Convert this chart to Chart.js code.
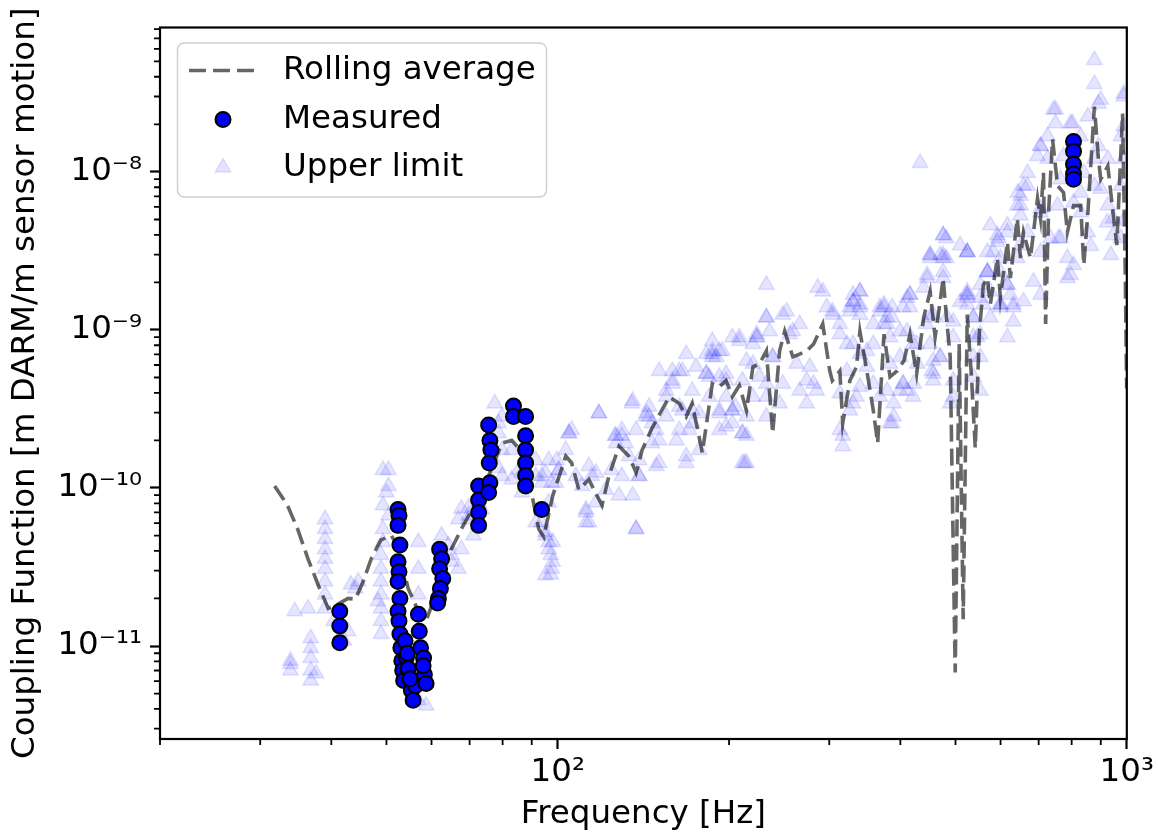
<!DOCTYPE html>
<html>
<head>
<meta charset="utf-8">
<script src="https://cdn.jsdelivr.net/npm/chart.js@4.4.1/dist/chart.umd.min.js"></script>
<style>
  html, body { margin: 0; padding: 0; background: #fff; }
  #wrap { width: 1158px; height: 834px; }
</style>
</head>
<body>
<div id="wrap"><canvas id="chart"></canvas></div>
<script>
const FONT = 'DejaVu Sans';
const FONT_SIZE = 32.5;

// axis limits
const X_MIN = 20, X_MAX = 1000;
const Y_MIN = 2.58e-12, Y_MAX = 8.2e-8;

// rolling average (dashed)
const avgFreq = [31.8, 33.5, 34.9, 36.4, 37.9, 39.5, 41.1, 42.8, 44.1, 45.5, 47.0, 48.9, 51.0, 52.4, 54.6, 56.9,
    58.7, 60.4, 62.5, 65.0, 67.7, 71.8, 75.6, 79.8, 83.0, 86.8, 89.9, 92.6, 94.5, 98.0, 103.3, 105.8, 108.9,
    113.4, 119.6, 123.0, 128.1, 133.4, 137.3, 140.7, 146.4, 157.0, 163.5, 168.2, 172.3, 179.5, 186.9, 192.3,
    197.6, 202.7, 208.5, 214.6, 220.3, 226.2, 232.6, 238.6, 245.4, 250.5, 258.9, 266.1, 273.8, 281.6, 292.2,
    300.6, 303.7, 313.1, 316.8, 326.1, 334.9, 339.6, 349.3, 358.5, 364.9, 374.4, 383.6, 394.6, 405.9, 415.9,
    427.2, 439.6, 451.2, 460.4, 469.9, 475.6, 483.2, 489.4, 499.4, 507.5, 515.8, 524.3, 533.0, 541.6, 550.5,
    559.6, 568.8, 575.6, 592.3, 599.5, 616.8, 624.3, 642.0, 650.3, 658.3, 677.1, 696.8, 705.2, 713.8, 720.0,
    728.6, 740.5, 755.7, 774.3, 786.2, 806.2, 829.8, 840.2, 854.3, 877.0, 891.5, 899.8, 926.0, 945.6, 960.3,
    983.0, 994.0, 999.5];
const avgValue = [1.03e-10, 7.77e-11, 5.5e-11, 3.56e-11, 2.45e-11, 1.73e-11, 1.84e-11, 2.0e-11, 1.98e-11, 2.56e-11,
    3.56e-11, 4.69e-11, 5.0e-11, 4.23e-11, 2.31e-11, 1.66e-11, 1.44e-11, 1.92e-11, 2.83e-11, 4.1e-11, 5.5e-11,
    8.1e-11, 1.19e-10, 1.92e-10, 2.0e-10, 1.67e-10, 9.36e-11, 5.5e-11, 4.9e-11, 8.95e-11, 1.59e-10, 1.44e-10,
    9.75e-11, 1.13e-10, 7.77e-11, 1.19e-10, 1.84e-10, 1.59e-10, 1.25e-10, 1.74e-10, 2.39e-10, 3.78e-10, 3.43e-10,
    2.83e-10, 3.43e-10, 1.67e-10, 4.57e-10, 4.37e-10, 4.78e-10, 3.78e-10, 4.45e-10, 3.09e-10, 5.84e-10, 6.1e-10,
    7.37e-10, 2.22e-10, 7.37e-10, 9.8e-10, 6.75e-10, 7.04e-10, 7.37e-10, 8.14e-10, 1.09e-9, 5.5e-10, 4.78e-10,
    5.5e-10, 2.57e-10, 4.78e-10, 5.84e-10, 9.8e-10, 5.5e-10, 3.09e-10, 1.92e-10, 9.4e-10, 5.05e-10, 5.5e-10,
    6.39e-10, 9.4e-10, 5.28e-10, 1.2e-9, 1.75e-9, 9.0e-10, 1.52e-9, 2.13e-9, 1.09e-9, 6.75e-10, 6.8e-12, 8.14e-10,
    1.48e-11, 1.25e-9, 5.28e-10, 1.79e-10, 9.4e-10,
    1.93e-9, 2.13e-9, 1.45e-9, 2.85e-9, 1.6e-9, 3.6e-9, 2.13e-9, 5.08e-9, 2.85e-9, 4.15e-9, 2.85e-9, 6.78e-9,
    5.08e-9, 9.86e-9, 1.09e-9, 5.53e-9, 1.61e-8, 8.17e-9, 7.39e-9, 4.15e-9, 6.12e-9, 6.12e-9, 2.58e-9, 5.53e-9,
    2.59e-8, 1.21e-8, 9.0e-9, 1.09e-8, 5.53e-9, 3.44e-9, 2.34e-8, 2.13e-9, 4.26e-10];

// measured coupling (circles)
const measuredFreq = [41.4, 41.4, 41.4,
    52.4, 52.6, 52.4, 52.8, 52.4, 52.6, 52.4, 52.8, 52.4, 52.6, 52.8, 53.0, 53.2, 53.4, 53.6,
    53.9, 54.2, 54.6, 55.3, 55.7, 56.2, 55.0, 54.4,
    56.9, 57.1, 57.4, 58.1, 58.3, 58.7, 58.0,
    62.0, 62.5, 62.0, 62.8, 62.2, 61.7, 61.5,
    72.6, 72.6, 72.6, 72.6,
    75.6, 76.0, 76.3, 75.8, 76.0, 75.6,
    83.6, 83.6,
    87.8, 87.8, 87.8, 87.8, 87.8, 87.8,
    93.7,
    806, 806, 806, 806, 806];
const measuredValue = [1.66e-11, 1.34e-11, 1.05e-11,
    7.3e-11, 6.7e-11, 5.8e-11, 4.35e-11, 3.41e-11, 2.95e-11, 2.56e-11, 2.0e-11, 1.66e-11, 1.44e-11, 1.19e-11,
    9.75e-12, 8.07e-12, 6.99e-12, 6.05e-12,
    1.08e-11, 8.5e-12, 7.2e-12, 5.24e-12, 4.53e-12, 5.6e-12, 6.2e-12, 9.0e-12,
    1.59e-11, 1.24e-11, 9.75e-12, 8.4e-12, 6.6e-12, 5.8e-12, 7.5e-12,
    4.1e-11, 3.56e-11, 3.08e-11, 2.67e-11, 2.31e-11, 2.0e-11, 1.87e-11,
    1.03e-10, 8.4e-11, 7.0e-11, 5.8e-11,
    2.5e-10, 2.0e-10, 1.74e-10, 1.44e-10, 1.08e-10, 9.36e-11,
    3.3e-10, 2.83e-10,
    2.83e-10, 2.14e-10, 1.74e-10, 1.44e-10, 1.2e-10, 1.03e-10,
    7.3e-11,
    1.56e-8, 1.35e-8, 1.12e-8, 9.7e-9, 9.0e-9];

// upper limits (faint triangles), below 100 Hz
const limitLowFreq = [33.9, 33.9, 34.5, 36.4, 36.8, 36.8, 36.8, 36.8, 36.8, 37.6, 33.9,
    39.0, 39.0, 39.0, 39.0, 39.0, 39.0, 39.0, 39.0, 39.0, 40.4, 42.1, 42.8, 43.3, 44.1, 44.6,
    49.3, 50.4, 50.0, 49.3, 50.4, 49.3, 49.3, 48.9, 48.9, 48.9, 48.9, 48.9, 48.9, 48.9, 50.4, 48.3,
    56.9, 56.9, 56.9, 56.9, 58.7, 62.5, 65.0, 66.9, 66.9, 67.7, 69.7, 72.6, 71.1, 69.7, 74.4,
    77.5, 78.7, 79.8, 78.7, 83.0, 85.4, 86.5, 91.5, 93.7, 93.7, 95.1, 96.4, 98.0, 95.1,
    93.7, 96.4, 98.0, 99.6, 95.1, 97.6,
    64.2, 67.7, 65.0, 69.7, 73.5, 79.8, 83.0, 86.5, 91.5, 96.4, 99.2, 91.5, 95.1, 96.4, 97.2, 97.6, 97.2,
    78.7, 79.8];
const limitLowValue = [7.7e-12, 6.99e-12, 1.66e-11, 1.73e-11, 1.12e-11, 9.7e-12, 8.4e-12, 7.0e-12, 6.05e-12, 6.7e-12, 8.07e-12,
    6.35e-11, 5.5e-11, 4.75e-11, 4.1e-11, 3.56e-11, 3.08e-11, 2.56e-11, 2.12e-11, 1.73e-11, 1.44e-11, 1.08e-11,
    1.24e-11, 2.45e-11, 2.31e-11, 2.56e-11,
    1.3e-10, 1.03e-10, 9.36e-11, 7.77e-11, 6.7e-11, 5.5e-11, 4.55e-11, 3.77e-11, 3.08e-11, 2.56e-11, 2.12e-11,
    1.73e-11, 1.44e-11, 1.19e-11, 1.3e-10, 1.92e-11,
    4.55e-11, 3.08e-11, 2.12e-11, 4.53e-12, 4.2e-12, 5.0e-11, 3.77e-11, 3.08e-11, 6.35e-11, 7.4e-11, 6.35e-11,
    8.1e-11, 5.0e-11, 7.5e-11, 9.6e-11,
    3.43e-10, 2.57e-10, 1.74e-10, 1.34e-10, 1.74e-10, 1.3e-10, 9.36e-11, 1.5e-10, 1.08e-10, 6.07e-11, 5.0e-11,
    4.1e-11, 3.41e-11, 2.8e-11,
    1.19e-10, 8.1e-11, 4.55e-11, 1.5e-10, 1.25e-10, 1.08e-10,
    4.35e-11, 4.1e-11, 3.41e-11, 6.7e-11, 7.3e-11, 1.19e-10, 1.13e-10, 1.25e-10, 1.19e-10, 1.5e-10, 1.08e-10,
    6.07e-11, 5.26e-11, 4.55e-11, 3.77e-11, 3.08e-11, 2.83e-11,
    2.22e-10, 2.83e-10];

// upper limits, 100 - 500 Hz
const limitMidFreq = [104.6, 103.3, 110.4, 112.1, 113.4, 118.1, 121.5, 126.1, 131.6, 134.9, 137.3, 139.0, 142.7,
    146.4, 150.7, 155.1, 159.0, 163.5, 168.2, 165.6, 172.3, 177.3, 184.6, 186.9, 192.3, 197.6, 202.7,
    208.5, 214.6, 211.1, 220.3, 232.6, 232.6, 238.6, 252.5, 258.9, 266.1, 273.8, 281.6, 286.3, 292.2,
    303.7, 313.1, 316.8, 330.3, 330.3, 316.8, 214.6, 211.1, 186.9, 202.7, 223.8, 192.3, 245.4, 358.5,
    334.9, 339.6, 339.6, 368.3, 379.0, 415.9, 399.5, 422.3, 454.3, 389.2, 451.2, 475.6, 475.6,
    100.4, 105.8, 107.6, 114.8, 116.7, 126.6, 129.6, 137.3, 144.7, 148.9, 155.1, 163.5, 170.2, 150.7, 159.0,
    168.2, 175.0, 182.4, 186.9, 144.7, 133.4, 129.6, 139.0,
    182.4, 189.9, 194.6, 184.6, 197.6, 202.7, 192.3, 202.7, 214.6, 223.6, 232.6, 235.6, 248.5, 255.6, 266.1,
    262.9, 277.2, 297.0, 304.2, 313.1, 326.1, 330.3, 339.6, 349.3, 358.5, 368.3, 379.0, 383.6, 399.5, 404.4,
    421.0, 428.3, 404.4, 421.0, 445.7, 451.2, 469.9, 483.2, 469.9, 456.8, 248.5, 285.1, 339.6, 368.3, 383.6,
    389.2, 326.1, 313.1, 273.8, 232.6, 220.3, 211.1, 220.3, 410.9, 387.0, 374.4, 330.3, 427.2, 443.8, 469.9,
    433.3, 451.2, 475.6, 481.5, 481.5, 495.2];
const limitMidValue = [2.22e-10, 1.74e-10, 1.03e-10, 7.3e-11, 6.07e-11, 2.97e-10, 9.75e-11, 2.14e-10, 1.92e-10,
    3.43e-10, 5.5e-11, 1.19e-10, 2.83e-10, 1.92e-10, 1.44e-10, 3.78e-10, 4.57e-10, 5.5e-10, 1.59e-10, 3.09e-10,
    3.09e-10, 1.74e-10, 5.05e-10, 6.75e-10, 5.05e-10, 3.78e-10, 3.09e-10, 8.5e-10, 2.83e-10, 1.44e-10, 8.14e-10,
    1.93e-9, 1.2e-9, 6.75e-10, 1.31e-9, 9.8e-10, 4.13e-10, 3.43e-10, 4.57e-10, 1.85e-9, 1.75e-9, 1.31e-9,
    2.33e-10, 1.84e-10, 1.67e-9, 8.14e-10, 2.14e-10, 1.44e-10, 2.22e-10, 7.37e-10, 9.0e-10, 9.0e-10, 2.97e-10,
    3.43e-10, 4.57e-10, 3.78e-10, 1.75e-9, 1.39e-9, 1.31e-9, 1.09e-9, 1.67e-9, 4.13e-10, 4.57e-10, 5.5e-10,
    2.83e-10, 2.85e-9, 3.97e-9, 2.85e-9,
    1.3e-10, 2.33e-10, 1.19e-10, 1.19e-10, 8.1e-11, 1.92e-10, 2.33e-10, 2.33e-10, 2.83e-10, 2.33e-10, 2.83e-10,
    2.33e-10, 2.33e-10, 5.5e-10, 5.5e-10, 7.04e-10, 5.84e-10, 7.04e-10, 8.5e-10, 3.27e-10, 1.59e-10, 1.19e-10,
    1.5e-10,
    5.28e-10, 6.75e-10, 7.37e-10, 3.78e-10, 4.78e-10, 3.09e-10, 2.33e-10, 2.57e-10, 2.14e-10, 9.4e-10, 1.2e-9,
    9.8e-10, 1.25e-9, 9.4e-10, 1.09e-9, 6.1e-10, 5.84e-10, 1.39e-9, 1.25e-9, 9.4e-10, 1.39e-9, 1.52e-9,
    1.25e-9, 7.37e-10, 1.09e-9, 1.39e-9, 1.2e-9, 6.1e-10, 9.8e-10, 1.39e-9, 8.14e-10, 6.1e-10, 4.57e-10,
    3.78e-10, 2.13e-9, 1.2e-9, 2.98e-9, 1.2e-9, 6.75e-10, 4.78e-10, 4.57e-10, 4.13e-10, 4.37e-10, 3.78e-10,
    2.57e-10, 3.43e-10, 3.09e-10, 3.96e-10, 4.78e-10, 4.57e-10, 3.78e-10, 4.78e-10, 6.1e-10, 1.6e-9, 1.39e-9,
    1.45e-9, 1.5e-9, 8.14e-10, 1.09e-9, 6.75e-10, 1.14e-8, 2.98e-9, 2.13e-9, 3.81e-9, 2.85e-9, 3.78e-10];

// upper limits, second reading of the 100 - 700 Hz band
const limitBandFreq = [104.6, 100.4, 118.1, 113.4, 116.7, 112.1, 112.1, 126.6, 129.6, 124.2, 128.1, 135.4, 135.4,
    139.0, 137.3, 143.2, 146.4, 150.7, 148.9, 155.1, 159.0, 165.6, 163.5, 161.6, 172.3, 172.3, 168.2, 177.3,
    182.4, 186.9, 192.3, 197.6, 192.3, 197.6, 205.3, 208.5, 214.6, 223.6, 211.1, 213.0, 226.2, 232.6, 238.6,
    232.6,
    475.6, 451.2, 475.6, 524.3, 445.7, 475.6, 568.8, 592.3, 616.8, 650.3, 339.6, 339.6, 326.1, 374.4, 415.9,
    415.9, 439.6, 524.3, 524.3, 568.8, 575.6, 599.5, 624.3, 631.9, 313.1, 374.4, 387.0, 410.9, 456.8, 495.4,
    537.2, 559.6, 322.3, 339.6, 358.5, 383.6, 451.2, 456.8, 495.4, 537.2, 552.7, 322.3, 349.3, 399.5, 404.4,
    410.9, 456.8, 495.4, 537.2, 379.0, 330.3, 387.0, 489.4, 552.7, 599.5, 631.9, 658.3, 616.8];
const limitBandValue = [2.22e-10, 1.3e-10, 2.97e-10, 1.38e-10, 1.25e-10, 7.02e-11, 6.07e-11, 2.14e-10, 2.14e-10,
    1.3e-10, 8.95e-11, 3.57e-10, 8.95e-11, 1.19e-10, 5.5e-11, 2.97e-10, 2.57e-10, 2.0e-10, 1.38e-10, 4.13e-10,
    4.78e-10, 5.5e-10, 3.27e-10, 2.0e-10, 4.13e-10, 2.57e-10, 1.44e-10, 2.97e-10, 5.28e-10, 7.04e-10, 7.37e-10,
    5.28e-10, 3.09e-10, 2.45e-10, 3.27e-10, 9.0e-10, 6.39e-10, 9.0e-10, 2.22e-10, 1.44e-10, 5.05e-10, 3.78e-10,
    6.75e-10, 2.83e-10,
    3.97e-9, 2.98e-9, 2.98e-9, 3.11e-9, 2.23e-9, 2.33e-9, 3.11e-9, 3.97e-9, 4.59e-9, 5.3e-9, 1.75e-9, 1.45e-9,
    1.31e-9, 1.39e-9, 1.67e-9, 1.39e-9, 1.85e-9, 1.67e-9, 1.45e-9, 2.33e-9, 1.75e-9, 2.33e-9, 1.67e-9, 1.39e-9,
    1.09e-9, 1.09e-9, 1.2e-9, 9.8e-10, 1.25e-9, 1.13e-9, 1.2e-9, 1.45e-9, 8.14e-10, 7.04e-10, 8.14e-10, 9.0e-10,
    8.14e-10, 6.39e-10, 9.0e-10, 9.0e-10, 6.75e-10, 5.5e-10, 5.84e-10, 6.75e-10, 4.57e-10, 4.13e-10, 5.28e-10,
    4.78e-10, 5.05e-10, 4.13e-10, 3.43e-10, 2.57e-10, 3.43e-10, 4.13e-10, 1.39e-9, 1.13e-9, 1.52e-9, 9.0e-10];

// upper limits, above 500 Hz
const limitHighFreq = [524.3, 524.3, 537.2, 877.0, 877.0, 743.3, 796.4, 987.7, 899.8, 705.2, 725.9, 669.1,
    643.3, 650.3, 705.2, 758.6, 786.2, 796.4, 854.3, 923.1, 945.6, 592.3, 599.5, 616.8, 568.8, 552.7, 631.9,
    685.3, 705.2, 509.6, 552.7, 877.0, 877.0, 975.9, 987.7, 829.8, 764.8, 806.2, 864.1, 937.2, 987.7, 987.7,
    829.8, 774.0, 650.3, 599.5, 509.6, 575.6,
    987.7, 891.5, 749.5, 802.6, 749.5, 725.9, 705.2, 696.8, 669.1, 658.3, 650.3, 642.0, 616.8, 594.6, 582.6,
    568.8, 552.7, 524.3, 524.3, 755.7, 764.8, 806.2, 786.2, 829.8, 899.8, 926.0, 945.6, 975.9, 891.5, 926.0,
    975.9, 854.3, 840.2, 806.2, 705.2, 669.1, 642.0, 616.8, 599.5, 575.6, 705.2, 734.5, 524.3, 537.2, 546.1];
const limitHighValue = [3.1e-9, 1.67e-9, 6.75e-10, 5.1e-8, 3.6e-8, 2.48e-8, 2.03e-8, 3.12e-8, 2.86e-8, 1.46e-8,
    1.21e-8, 8.17e-9, 7.39e-9, 6.12e-9, 5.86e-9, 3.81e-9, 2.85e-9, 2.23e-9, 4.15e-9, 4.79e-9, 3.97e-9, 3.6e-9,
    2.85e-9, 1.93e-9, 2.33e-9, 1.6e-9, 1.45e-9, 2.02e-9, 1.67e-9, 1.5e-9, 9.4e-10, 1.21e-8, 8.17e-9, 8.17e-9,
    1.21e-8, 7.39e-9, 9.0e-9, 1.09e-8, 3.4e-9, 2.98e-9, 4.9e-9, 1.94e-8, 1.68e-8, 1.26e-8, 3.44e-9, 1.45e-9,
    3.44e-9, 4.59e-9,
    3.0e-8, 2.7e-8, 2.48e-8, 2.03e-8, 2.03e-8, 1.68e-8, 1.46e-8, 1.26e-8, 9.86e-9, 8.17e-9, 7.07e-9, 6.12e-9,
    4.15e-9, 3.81e-9, 3.11e-9, 2.33e-9, 1.93e-9, 3.11e-9, 1.6e-9, 6.12e-9, 3.81e-9, 2.58e-9, 2.13e-9, 5.53e-9,
    7.83e-9, 6.12e-9, 5.08e-9, 3.81e-9, 1.46e-8, 1.21e-8, 1.68e-8, 2.24e-8, 9.86e-9, 6.4e-9, 5.53e-9, 4.15e-9,
    2.85e-9, 1.93e-9, 1.45e-9, 1.2e-9, 3.11e-9, 3.81e-9, 1.75e-9, 1.2e-9, 9.0e-10];

const limitFreq = limitLowFreq.concat(limitMidFreq, limitBandFreq, limitHighFreq);
const limitValue = limitLowValue.concat(limitMidValue, limitBandValue, limitHighValue);

// ticks
const xMajor = [100, 1000];
const xMajorLabels = ['10²', '10³'];
const xMinor = [20, 30, 40, 50, 60, 70, 80, 90, 200, 300, 400, 500, 600, 700, 800, 900];
const yMajor = [1e-11, 1e-10, 1e-9, 1e-8];
const yMajorLabels = ['10⁻¹¹', '10⁻¹⁰', '10⁻⁹', '10⁻⁸'];
const yMinor = [3e-12, 4e-12, 5e-12, 6e-12, 7e-12, 8e-12, 9e-12,
    2e-11, 3e-11, 4e-11, 5e-11, 6e-11, 7e-11, 8e-11, 9e-11,
    2e-10, 3e-10, 4e-10, 5e-10, 6e-10, 7e-10, 8e-10, 9e-10,
    2e-9, 3e-9, 4e-9, 5e-9, 6e-9, 7e-9, 8e-9, 9e-9,
    2e-8, 3e-8, 4e-8, 5e-8, 6e-8, 7e-8, 8e-8];

const LINE_COLOR = 'rgba(0, 0, 0, 0.6)';
const LIMIT_FILL = 'rgba(0, 0, 255, 0.1)';
const LIMIT_EDGE = 'rgba(0, 0, 255, 0.11)';

function toPoints(xs, ys) {
    return xs.map((x, i) => ({ x: x, y: ys[i] }));
}

const frame = {
    id: 'frame',
    afterDatasetsDraw(chart) {
        const { ctx, chartArea: a, scales } = chart;
        ctx.save();
        ctx.strokeStyle = '#000';
        ctx.lineWidth = 1.8;
        ctx.beginPath();
        xMinor.forEach(v => {
            const px = scales.x.getPixelForValue(v);
            ctx.moveTo(px, a.bottom);
            ctx.lineTo(px, a.bottom + 6);
        });
        yMinor.forEach(v => {
            const py = scales.y.getPixelForValue(v);
            ctx.moveTo(a.left, py);
            ctx.lineTo(a.left - 6, py);
        });
        ctx.stroke();
        ctx.lineWidth = 2.2;
        ctx.strokeRect(a.left, a.top, a.right - a.left, a.bottom - a.top);
        ctx.restore();
    },
    afterDraw(chart) {
        const { ctx, chartArea: a } = chart;
        const ds = chart.data.datasets;
        const bx = a.left + 17, by = a.top + 15;
        ctx.save();
        ctx.beginPath();
        ctx.roundRect(bx + 0.5, by + 0.5, 369, 154, 7);
        ctx.fillStyle = 'rgba(255, 255, 255, 0.8)';
        ctx.fill();
        ctx.strokeStyle = '#d0d0d0';
        ctx.lineWidth = 1.5;
        ctx.stroke();

        const rows = [by + 28, by + 77, by + 125];
        const hx = bx + 46;

        // rolling average handle
        ctx.strokeStyle = ds[0].borderColor;
        ctx.lineWidth = ds[0].borderWidth;
        ctx.setLineDash(ds[0].borderDash);
        ctx.beginPath();
        ctx.moveTo(bx + 12, rows[0]);
        ctx.lineTo(bx + 78, rows[0]);
        ctx.stroke();
        ctx.setLineDash([]);

        // measured handle
        ctx.fillStyle = ds[1].backgroundColor;
        ctx.strokeStyle = ds[1].borderColor;
        ctx.lineWidth = ds[1].borderWidth;
        Chart.helpers.drawPoint(ctx, { pointStyle: 'circle', radius: ds[1].pointRadius, borderWidth: ds[1].borderWidth }, hx, rows[1]);

        // upper limit handle
        ctx.fillStyle = ds[2].backgroundColor;
        ctx.strokeStyle = ds[2].borderColor;
        ctx.lineWidth = ds[2].borderWidth;
        Chart.helpers.drawPoint(ctx, { pointStyle: 'triangle', radius: ds[2].pointRadius, borderWidth: ds[2].borderWidth }, hx, rows[2]);

        ctx.fillStyle = '#000';
        ctx.font = `${FONT_SIZE}px "${FONT}"`;
        ctx.textAlign = 'left';
        ctx.textBaseline = 'middle';
        ds.forEach((d, i) => ctx.fillText(d.label, bx + 106, rows[i]));
        ctx.restore();
    }
};

new Chart(document.getElementById('chart'), {
    type: 'scatter',
    data: {
        datasets: [
            {
                label: 'Rolling average',
                data: toPoints(avgFreq, avgValue),
                showLine: true,
                borderColor: LINE_COLOR,
                borderWidth: 3.6,
                borderDash: [17, 7],
                pointRadius: 0,
                fill: false,
                order: 1
            },
            {
                label: 'Measured',
                data: toPoints(measuredFreq, measuredValue),
                backgroundColor: '#0000ff',
                borderColor: '#000',
                borderWidth: 2,
                pointRadius: 7.5,
                pointStyle: 'circle',
                order: 0
            },
            {
                label: 'Upper limit',
                data: toPoints(limitFreq, limitValue),
                backgroundColor: LIMIT_FILL,
                borderColor: LIMIT_EDGE,
                borderWidth: 1.5,
                pointRadius: 9,
                pointStyle: 'triangle',
                order: 2
            }
        ]
    },
    options: {
        responsive: true,
        maintainAspectRatio: false,
        animation: false,
        layout: { padding: { left: 0, top: 20, right: 31, bottom: 0 } },
        plugins: {
            legend: { display: false },
            tooltip: { enabled: false }
        },
        scales: {
            x: {
                type: 'logarithmic',
                min: X_MIN,
                max: X_MAX,
                afterFit(scale) { scale.height = 95; },
                afterBuildTicks(scale) { scale.ticks = xMajor.map(v => ({ value: v, major: true })); },
                border: { display: false },
                grid: { drawOnChartArea: false, drawTicks: true, tickLength: 10, tickWidth: 2.2, tickColor: '#000' },
                ticks: {
                    autoSkip: false,
                    maxRotation: 0,
                    padding: 4,
                    color: '#000',
                    font: { family: FONT, size: FONT_SIZE },
                    callback: (v, i) => xMajorLabels[i]
                },
                title: {
                    display: true,
                    text: 'Frequency [Hz]',
                    color: '#000',
                    font: { family: FONT, size: FONT_SIZE },
                    padding: { top: 0, bottom: 0 }
                }
            },
            y: {
                type: 'logarithmic',
                min: Y_MIN,
                max: Y_MAX,
                afterFit(scale) { scale.width = 160; },
                afterBuildTicks(scale) { scale.ticks = yMajor.map(v => ({ value: v, major: true })); },
                border: { display: false },
                grid: { drawOnChartArea: false, drawTicks: true, tickLength: 10, tickWidth: 2.2, tickColor: '#000' },
                ticks: {
                    autoSkip: false,
                    padding: 8,
                    color: '#000',
                    font: { family: FONT, size: FONT_SIZE },
                    callback: (v, i) => yMajorLabels[i]
                },
                title: {
                    display: true,
                    text: 'Coupling Function [m DARM/m sensor motion]',
                    color: '#000',
                    font: { family: FONT, size: FONT_SIZE },
                    padding: { top: 6, bottom: 0 }
                }
            }
        }
    },
    plugins: [frame]
});
</script>
</body>
</html>
